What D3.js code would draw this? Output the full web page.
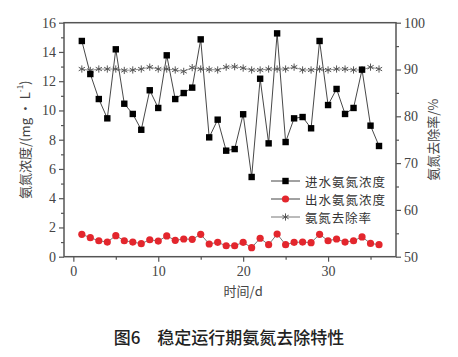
<!DOCTYPE html>
<html><head><meta charset="utf-8">
<script src="https://cdn.jsdelivr.net/npm/d3@7"></script>
<style>body{margin:0;background:#fff}svg{display:block}</style>
</head><body>
<svg id="c" width="458" height="357"></svg>
<script>
const days = d3.range(1, 37);
const inflow = [14.75, 12.49, 10.78, 9.46, 14.18, 10.46, 9.76, 8.68, 11.38, 10.17, 13.77, 10.78, 11.19, 11.56, 14.86, 8.16, 9.37, 7.25, 7.36, 9.74, 5.45, 12.17, 7.75, 15.27, 7.84, 9.46, 9.55, 8.78, 14.75, 10.37, 11.47, 9.76, 10.17, 12.79, 8.96, 7.57];
const outflow = [1.53, 1.30, 1.09, 1.00, 1.44, 1.09, 1.00, 0.89, 1.16, 1.07, 1.42, 1.12, 1.21, 1.19, 1.53, 0.87, 0.98, 0.75, 0.75, 0.98, 0.62, 1.26, 0.82, 1.55, 0.82, 0.98, 1.00, 0.96, 1.53, 1.09, 1.21, 1.00, 1.09, 1.35, 0.91, 0.82];
const removal = [90.1, 89.8, 90.1, 90.1, 90.1, 89.8, 89.9, 90.1, 90.5, 90.1, 90.1, 89.9, 89.6, 90.4, 90.1, 90.0, 89.9, 90.5, 90.6, 90.3, 89.9, 89.9, 90.1, 90.1, 90.1, 90.5, 89.9, 89.9, 90.1, 89.9, 90.1, 90.1, 89.9, 89.9, 90.5, 90.1];
const leftTicks = [0, 2, 4, 6, 8, 10, 12, 14, 16];
const rightTicks = [50, 60, 70, 80, 90, 100];
const xTicks = [0, 10, 20, 30];
const legendLabels = ["进水氨氮浓度", "出水氨氮浓度", "氨氮去除率"];

const svg = d3.select("#c");
const L = 64, R = 396, T = 22.7, B = 256.7;
const x = d3.scaleLinear().domain([-1.1, 38]).range([L, R]);
const yL = d3.scaleLinear().domain([0, 16]).range([B, T]);
const yR = d3.scaleLinear().domain([50, 100]).range([B, T]);
const axisCol = "#555";
const serif = "'Liberation Serif','DejaVu Serif',serif";
const cjk = "'Noto Sans CJK SC','Noto Sans',sans-serif";

function styleAxis(g) {
  g.selectAll(".domain").remove();
  g.selectAll("line").attr("stroke", axisCol).attr("stroke-width", 1.2);
  g.selectAll("text").attr("fill", "#444").attr("font-family", serif).attr("font-size", 14);
}
// minor ticks
svg.append("g").attr("transform", `translate(${L},0)`)
  .call(d3.axisLeft(yL).tickValues(d3.range(1, 16, 2)).tickSize(3).tickFormat("")).call(styleAxis);
svg.append("g").attr("transform", `translate(0,${B})`)
  .call(d3.axisBottom(x).tickValues([5, 15, 25, 35]).tickSize(3).tickFormat("")).call(styleAxis);
svg.append("g").attr("transform", `translate(${R},0)`)
  .call(d3.axisRight(yR).tickValues([55, 65, 75, 85, 95]).tickSize(3).tickFormat("")).call(styleAxis);
// major ticks
svg.append("g").attr("transform", `translate(${L},0)`)
  .call(d3.axisLeft(yL).tickValues(leftTicks).tickSize(5).tickPadding(3).tickFormat(d3.format("d"))).call(styleAxis);
svg.append("g").attr("transform", `translate(0,${B})`)
  .call(d3.axisBottom(x).tickValues(xTicks).tickSize(5).tickPadding(4).tickFormat(d3.format("d"))).call(styleAxis);
svg.append("g").attr("transform", `translate(${R},0)`)
  .call(d3.axisRight(yR).tickValues(rightTicks).tickSize(5).tickPadding(3).tickFormat(d3.format("d"))).call(styleAxis);

// frame
svg.append("rect").attr("x", L).attr("y", T).attr("width", R - L).attr("height", B - T)
  .attr("fill", "none").attr("stroke", axisCol).attr("stroke-width", 1.5);

// axis titles
svg.append("text").attr("transform", `translate(24,${(T + B) / 2}) rotate(-90)`)
  .attr("text-anchor", "middle").attr("dominant-baseline", "central")
  .attr("font-family", cjk).attr("font-size", 13).attr("fill", "#444")
  .html('氨氮浓度/(mg · L<tspan font-size="8" dy="-5">-1</tspan><tspan dy="5">)</tspan>');
svg.append("text").attr("transform", `translate(432,${(T + B) / 2}) rotate(-90)`)
  .attr("text-anchor", "middle").attr("dominant-baseline", "central")
  .attr("font-family", cjk).attr("font-size", 13).attr("fill", "#444").text("氨氮去除率/%");
svg.append("text").attr("x", x(20)).attr("y", 290).attr("text-anchor", "middle").attr("dominant-baseline", "central")
  .attr("font-family", cjk).attr("font-size", 13).attr("fill", "#444").text("时间/d");
svg.append("text").attr("x", 229).attr("y", 336).attr("text-anchor", "middle").attr("dominant-baseline", "central")
  .attr("font-family", cjk).attr("font-size", 17).attr("font-weight", 500).attr("fill", "#222")
  .text("图6\u3000稳定运行期氨氮去除特性");

// series
const lineCol = "#333";
const inLine = d3.line().x((d, i) => x(days[i])).y(d => yL(d));
const rmLine = d3.line().x((d, i) => x(days[i])).y(d => yR(d));
svg.append("path").attr("d", rmLine(removal)).attr("fill", "none").attr("stroke", "#777").attr("stroke-width", 0.8);
svg.append("path").attr("d", inLine(outflow)).attr("fill", "none").attr("stroke", "#555").attr("stroke-width", 0.8);
svg.append("path").attr("d", inLine(inflow)).attr("fill", "none").attr("stroke", lineCol).attr("stroke-width", 0.9);

const star = d3.symbol().type(d3.symbolAsterisk).size(36);
function drawStar(g, cx, cy) {
  g.append("path").attr("transform", `translate(${cx},${cy})`).attr("d", star())
    .attr("fill", "none").attr("stroke", "#555").attr("stroke-width", 1);
}
removal.forEach((v, i) => drawStar(svg, x(days[i]), yR(v)));
svg.selectAll(".sq").data(inflow).join("rect")
  .attr("x", (d, i) => x(days[i]) - 3.2).attr("y", d => yL(d) - 3.2).attr("width", 6.4).attr("height", 6.4).attr("fill", "#000");
svg.selectAll(".dot").data(outflow).join("circle")
  .attr("cx", (d, i) => x(days[i])).attr("cy", d => yL(d)).attr("r", 3.6).attr("fill", "#e3262d");

// legend
const lg = svg.append("g");
const rows = [181, 199, 217];
rows.forEach((ry, k) => {
  lg.append("line").attr("x1", 271).attr("x2", 300).attr("y1", ry).attr("y2", ry).attr("stroke", k === 2 ? "#777" : "#444").attr("stroke-width", 1);
  if (k === 0) lg.append("rect").attr("x", 285.5 - 3.2).attr("y", ry - 3.2).attr("width", 6.4).attr("height", 6.4).attr("fill", "#000");
  if (k === 1) lg.append("circle").attr("cx", 285.5).attr("cy", ry).attr("r", 3.6).attr("fill", "#e3262d");
  if (k === 2) drawStar(lg, 285.5, ry);
  lg.append("text").attr("x", 305).attr("y", ry).attr("dominant-baseline", "central")
    .attr("font-family", cjk).attr("font-size", 12.5).attr("textLength", k === 2 ? 66 : 80).attr("lengthAdjust", "spacing")
    .attr("fill", "#333").text(legendLabels[k]);
});
</script>
</body></html>
